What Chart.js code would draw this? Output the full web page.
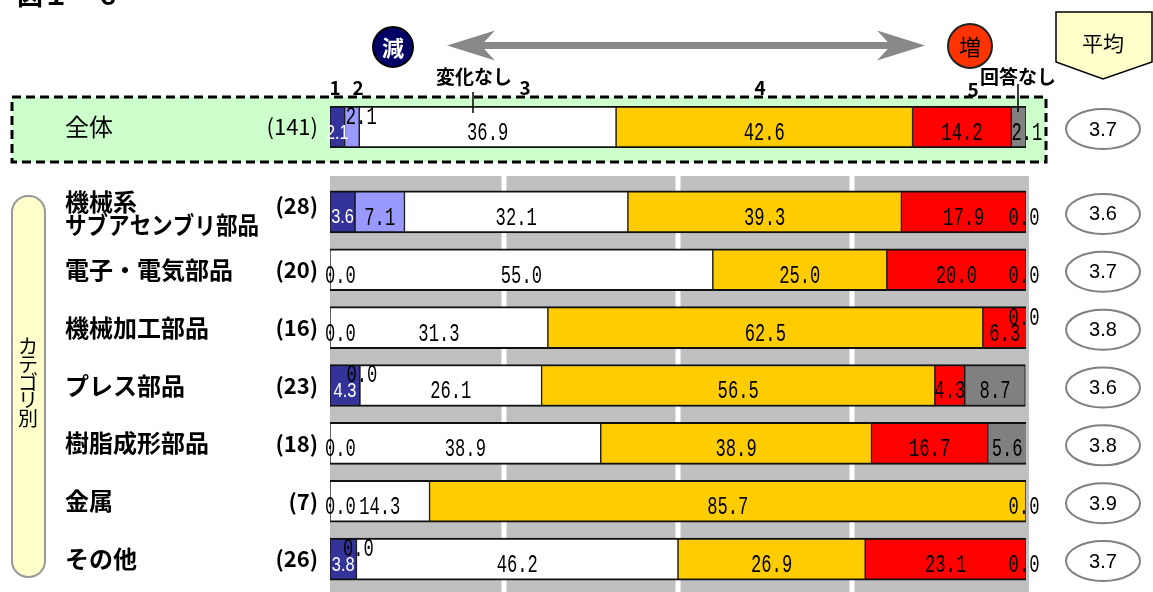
<!DOCTYPE html>
<html>
<head>
<meta charset="utf-8">
<script src="https://cdn.jsdelivr.net/npm/chart.js@4.4.1/dist/chart.umd.min.js"></script>
<style>
  html, body { margin: 0; padding: 0; background: #fff; }
  body { width: 1153px; height: 592px; position: relative; overflow: hidden; }
  canvas { position: absolute; left: 0; }
  #overall { top: 0; }
  #byCategory { top: 176px; }
</style>
</head>
<body>
<canvas id="overall" width="1153" height="170"></canvas>
<canvas id="byCategory" width="1153" height="416"></canvas>
<script>
// rows: 全体 first, then categories
const rowLabels = ['全体', '機械系\nサブアセンブリ部品', '電子・電気部品', '機械加工部品', 'プレス部品', '樹脂成形部品', '金属', 'その他'];
const rowCounts = [141, 28, 20, 16, 23, 18, 7, 26];
const rowAverages = [3.7, 3.6, 3.7, 3.8, 3.6, 3.8, 3.9, 3.7];

const seriesNames = ['1', '2', '3', '4', '5', '回答なし'];
const resp1 = [2.1, 3.6, 0.0, 0.0, 4.3, 0.0, 0.0, 3.8];
const resp2 = [2.1, 7.1, 0.0, 0.0, 0.0, 0.0, 0.0, 0.0];
const resp3 = [36.9, 32.1, 55.0, 31.3, 26.1, 38.9, 14.3, 46.2];
const resp4 = [42.6, 39.3, 25.0, 62.5, 56.5, 38.9, 85.7, 26.9];
const resp5 = [14.2, 17.9, 20.0, 6.3, 4.3, 16.7, 0.0, 23.1];
const respNA = [2.1, 0.0, 0.0, 0.0, 8.7, 5.6, 0.0, 0.0];

const seriesColors = ['#333399', '#9999FF', '#FFFFFF', '#FFCC00', '#FF0000', '#808080'];
const allSeries = [resp1, resp2, resp3, resp4, resp5, respNA];

const JP = '"Noto Sans CJK JP", "Noto Sans", sans-serif';
const VALUE_FONT = '26px "Liberation Mono", monospace';
const VALUE_SX = 0.66;
const NAVY_FONT = '20px "Liberation Sans", sans-serif';
const NAVY_SX = 0.82;

function drawText(ctx, txt, x, y, o) {
  ctx.save();
  ctx.font = o.font;
  ctx.fillStyle = o.color || '#000';
  ctx.textBaseline = 'middle';
  ctx.textAlign = 'left';
  let sx = o.sx || 1;
  let w = ctx.measureText(txt).width * sx;
  if (o.maxWidth && w > o.maxWidth) { sx *= o.maxWidth / w; w = o.maxWidth; }
  let left = x;
  if (o.align === 'center') left = x - w / 2;
  else if (o.align === 'right') left = x - w;
  ctx.translate(left, y);
  ctx.scale(sx, 1);
  ctx.fillText(txt, 0, 0);
  ctx.restore();
}

function makeDatasets(from, to) {
  return allSeries.map((arr, s) => ({
    label: seriesNames[s],
    data: arr.slice(from, to),
    backgroundColor: seriesColors[s],
    borderColor: '#111',
    borderWidth: { top: 2, bottom: 2, left: 1, right: 1 },
    borderSkipped: false,
    barThickness: 42
  }));
}

// value labels inside the stacked segments
const segmentLabels = {
  id: 'segmentLabels',
  afterDatasetsDraw(chart) {
    const ctx = chart.ctx;
    const right = chart.chartArea.right;
    const metas = chart.data.datasets.map((d, s) => chart.getDatasetMeta(s));
    chart.data.labels.forEach((lab, i) => {
      const v = chart.data.datasets.map(d => d.data[i]);
      const seg = metas.map(m => {
        const b = m.data[i];
        return { l: Math.min(b.base, b.x), r: Math.max(b.base, b.x), y: b.y };
      });
      const yc = seg[0].y;
      v.forEach((val, s) => {
        const g = seg[s];
        const w = g.r - g.l;
        let x = (g.l + g.r) / 2, y = yc + 6, align = 'center';
        let font = VALUE_FONT, sx = VALUE_SX, color = '#000';
        if (s === 0) {
          if (val === 0) { x = g.l - 5; align = 'left'; }
          else { font = NAVY_FONT; sx = NAVY_SX; color = '#fff'; }
        } else if (s === 1) {
          if (val === 0 && v[0] === 0) return;
          if (val === 0 || w < 20) { x = g.r + 2; y = yc - 10; }
        } else if (s === 4) {
          if (val === 0) {
            if (v[5] !== 0) return;
            x = right - 2;
          }
        } else if (s === 5) {
          if (val === 0) {
            if (v[4] === 0) return;
            x = right - 2;
            if (seg[4].r - seg[4].l < 50) y = yc - 10;
          } else if (w < 30) { x = g.l; align = 'left'; }
        }
        drawText(ctx, val.toFixed(1), x, y, { font, sx, color, align });
      });
    });
  }
};

// row names, counts and average ellipses
const rowInfo = {
  id: 'rowInfo',
  afterDraw(chart, args, opts) {
    const ctx = chart.ctx;
    const yScale = chart.scales.y;
    chart.data.labels.forEach((lab, i) => {
      const yc = yScale.getPixelForValue(i);
      const lines = lab.split('\n');
      const weight = opts.bold ? 'bold ' : '';
      lines.forEach((ln, k) => {
        const y = lines.length > 1 ? yc - 10 + k * 23 : yc;
        drawText(ctx, ln, 65, y, { font: weight + '24px ' + JP, align: 'left', maxWidth: 194 });
      });
      const cy = lines.length > 1 ? yc - 6 : yc;
      drawText(ctx, '(' + opts.counts[i] + ')', 318, cy, { font: weight + '22px ' + JP, align: 'right' });

      ctx.save();
      ctx.beginPath();
      ctx.ellipse(1103, yc + 2, 37, 20, 0, 0, Math.PI * 2);
      ctx.fillStyle = '#fff';
      ctx.fill();
      ctx.lineWidth = 2;
      ctx.strokeStyle = '#808080';
      ctx.stroke();
      ctx.restore();
      drawText(ctx, opts.averages[i].toFixed(1), 1103, yc + 3, { font: '20px "Liberation Sans", sans-serif', align: 'center' });
    });
  }
};

// category chart background: gray panel, white 25% gridlines, side pill
const categoryBack = {
  id: 'categoryBack',
  beforeDraw(chart) {
    const ctx = chart.ctx;
    const a = chart.chartArea;
    const x = chart.scales.x;
    ctx.save();
    ctx.fillStyle = '#C0C0C0';
    ctx.fillRect(a.left, 0, a.right - a.left + 3, chart.height);
    ctx.strokeStyle = '#fff';
    ctx.lineWidth = 5;
    [25, 50, 75].forEach(t => {
      const px = x.getPixelForValue(t);
      ctx.beginPath();
      ctx.moveTo(px, 0);
      ctx.lineTo(px, chart.height);
      ctx.stroke();
    });
    // カテゴリ別 pill
    ctx.beginPath();
    ctx.roundRect(12, 20, 33, 381, 16);
    ctx.fillStyle = '#FFFFCC';
    ctx.fill();
    ctx.lineWidth = 2;
    ctx.strokeStyle = '#999';
    ctx.stroke();
    ctx.fillStyle = '#000';
    ctx.font = '20px ' + JP;
    ctx.textAlign = 'center';
    ctx.textBaseline = 'middle';
    const word = 'カテゴリ別';
    [...word].forEach((ch, k) => ctx.fillText(ch, 28, 170 + k * 18));
    ctx.restore();
  }
};

function arrowHead(ctx, tipX, y, dir) {
  const back = tipX - dir * 48;
  ctx.beginPath();
  ctx.moveTo(tipX, y);
  ctx.lineTo(back, y - 15);
  ctx.lineTo(back + dir * 14, y);
  ctx.lineTo(back, y + 15);
  ctx.closePath();
  ctx.fill();
}

// overall row: green dashed frame and the header decorations
const overallDecor = {
  id: 'overallDecor',
  beforeDraw(chart) {
    const ctx = chart.ctx;
    ctx.save();
    ctx.fillStyle = '#CCFFCC';
    ctx.fillRect(12, 97, 1034, 65);
    ctx.setLineDash([9, 5]);
    ctx.lineWidth = 3;
    ctx.strokeStyle = '#000';
    ctx.strokeRect(12, 97, 1034, 65);
    ctx.restore();
  },
  afterDraw(chart) {
    const ctx = chart.ctx;
    ctx.save();
    // title (cut off at top)
    ctx.font = 'bold 26px ' + JP;
    ctx.fillStyle = '#000';
    ctx.textBaseline = 'bottom';
    ctx.fillText('図１－６', 17, 8);

    // double arrow
    ctx.fillStyle = '#888';
    ctx.fillRect(470, 42, 432, 7);
    arrowHead(ctx, 447, 45.5, -1);
    arrowHead(ctx, 925, 45.5, 1);

    // 減 / 増 circles
    ctx.beginPath();
    ctx.arc(393, 47, 20, 0, Math.PI * 2);
    ctx.fillStyle = '#000066';
    ctx.fill();
    ctx.lineWidth = 2;
    ctx.strokeStyle = '#000';
    ctx.stroke();
    ctx.beginPath();
    ctx.arc(970, 46, 22, 0, Math.PI * 2);
    ctx.fillStyle = '#FF3300';
    ctx.fill();
    ctx.strokeStyle = '#222';
    ctx.stroke();
    ctx.restore();
    drawText(ctx, '減', 393, 48, { font: 'bold 22px ' + JP, color: '#fff', align: 'center' });
    drawText(ctx, '増', 970, 47, { font: '22px ' + JP, color: '#000', align: 'center' });

    // 平均 tag
    ctx.save();
    ctx.beginPath();
    ctx.moveTo(1056, 12);
    ctx.lineTo(1152, 12);
    ctx.lineTo(1152, 62);
    ctx.lineTo(1103, 79);
    ctx.lineTo(1056, 62);
    ctx.closePath();
    ctx.fillStyle = '#FFFFCC';
    ctx.fill();
    ctx.lineWidth = 1.5;
    ctx.strokeStyle = '#000';
    ctx.stroke();
    ctx.restore();
    drawText(ctx, '平均', 1103, 43, { font: '21px ' + JP, align: 'center' });

    // scale captions above the overall bar
    const cap = 'bold 19px ' + JP;
    drawText(ctx, '1', 335, 88, { font: cap, align: 'center' });
    drawText(ctx, '2', 358, 88, { font: cap, align: 'center' });
    drawText(ctx, '3', 525, 88, { font: cap, align: 'center' });
    drawText(ctx, '4', 760, 88, { font: cap, align: 'center' });
    drawText(ctx, '5', 973, 90, { font: cap, align: 'center' });
    drawText(ctx, '変化なし', 474, 77, { font: 'bold 19px ' + JP, align: 'center' });
    drawText(ctx, '回答なし', 980, 77, { font: 'bold 19px ' + JP, align: 'left' });
    ctx.save();
    ctx.strokeStyle = '#000';
    ctx.lineWidth = 1.5;
    ctx.beginPath();
    ctx.moveTo(473, 92); ctx.lineTo(473, 113);
    ctx.moveTo(1018, 84); ctx.lineTo(1018, 112);
    ctx.stroke();
    ctx.restore();
  }
};

function baseOptions(padding, info) {
  return {
    indexAxis: 'y',
    responsive: false,
    animation: false,
    layout: { padding },
    scales: {
      x: { stacked: true, min: 0, max: 100, display: false },
      y: { stacked: true, display: false }
    },
    plugins: {
      legend: { display: false },
      tooltip: { enabled: false },
      rowInfo: info
    }
  };
}

new Chart(document.getElementById('overall'), {
  type: 'bar',
  data: { labels: rowLabels.slice(0, 1), datasets: makeDatasets(0, 1) },
  options: baseOptions({ left: 330, right: 127, top: 106, bottom: 22 },
    { counts: rowCounts.slice(0, 1), averages: rowAverages.slice(0, 1), bold: false }),
  plugins: [overallDecor, segmentLabels, rowInfo]
});

new Chart(document.getElementById('byCategory'), {
  type: 'bar',
  data: { labels: rowLabels.slice(1), datasets: makeDatasets(1, rowLabels.length) },
  options: baseOptions({ left: 330, right: 127, top: 7, bottom: 4 },
    { counts: rowCounts.slice(1), averages: rowAverages.slice(1), bold: true }),
  plugins: [categoryBack, segmentLabels, rowInfo]
});
</script>
</body>
</html>
